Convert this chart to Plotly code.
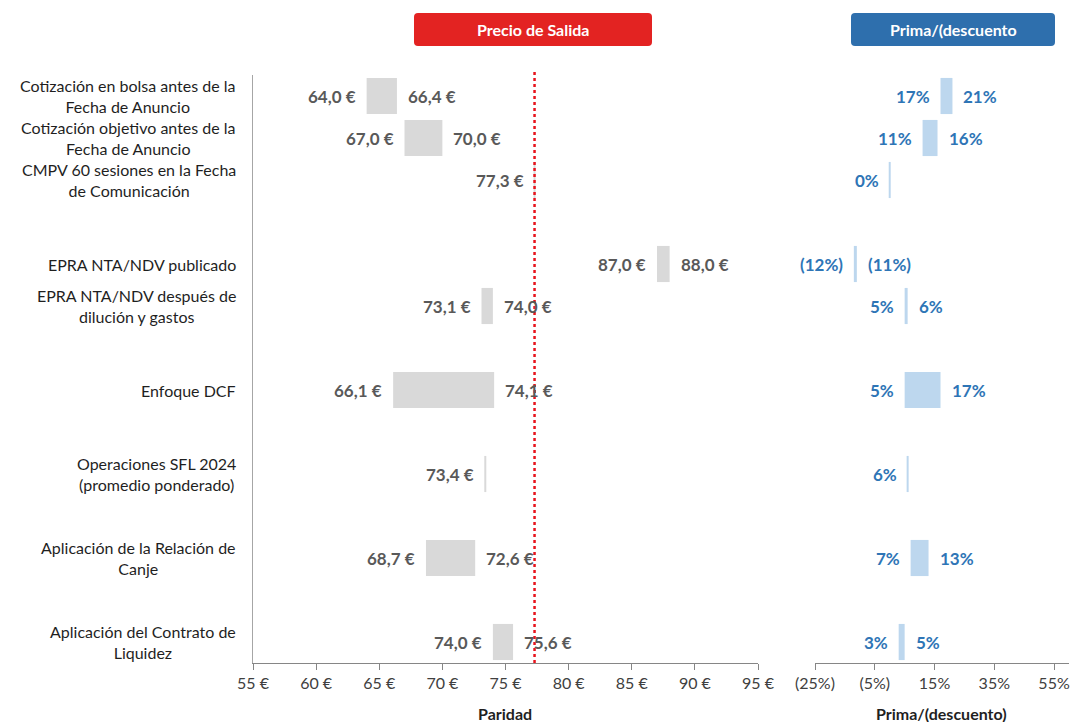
import plotly.graph_objects as go

# ---- data -------------------------------------------------------------
CATEGORIES = [
    "Cotización en bolsa antes de la<br>Fecha de Anuncio",
    "Cotización objetivo antes de la<br>Fecha de Anuncio",
    "CMPV 60 sesiones en la Fecha<br>de Comunicación",
    "EPRA NTA/NDV publicado",
    "EPRA NTA/NDV después de<br>dilución y gastos",
    "Enfoque DCF",
    "Operaciones SFL 2024<br>(promedio ponderado)",
    "Aplicación de la Relación de<br>Canje",
    "Aplicación del Contrato de<br>Liquidez",
]
PARIDAD_LOW = [64.0, 67.0, 77.3, 87.0, 73.1, 66.1, 73.4, 68.7, 74.0]
PARIDAD_HIGH = [66.4, 70.0, None, 88.0, 74.0, 74.1, None, 72.6, 75.6]
PRIMA_LOW = [17, 11, 0, -12, 5, 5, 6, 7, 3]
PRIMA_HIGH = [21, 16, None, -11, 6, 17, None, 13, 5]
PRECIO_SALIDA = 77.3

PARIDAD_TICKS = [55, 60, 65, 70, 75, 80, 85, 90, 95]
PRIMA_TICKS = [-25, -5, 15, 35, 55]

# ---- layout helpers ---------------------------------------------------
W, H = 1071, 722
ROW_POS = [0, 1, 2, 4, 5, 7, 9, 11, 13]   # vertical slots (blank slots act as spacers)
BAR_W = 0.86

GRAY_BAR = "#d9d9d9"
BLUE_BAR = "#bdd7ee"
GRAY_TXT = "#595959"
BLUE_TXT = "#2e75b6"
AXIS_COL = "#868686"
FONT = "Lato"
FS = 16
FS_VAL = 17


def px_x(p):
    return p / W


def px_y(p):
    return 1 - p / H


def eur(v):
    return f"{v:.1f}".replace(".", ",") + " €"


def pct(v):
    return f"({abs(v):.0f}%)" if v < 0 else f"{v:.0f}%"


fig = go.Figure()
annotations = []


def add_ranges(lows, highs, xa, ya, bar_col, txt_col, fmt):
    rng_y, rng_base, rng_len = [], [], []
    for pos, lo, hi in zip(ROW_POS, lows, highs):
        if hi is None:
            # single value: drawn as a thin vertical mark
            fig.add_trace(go.Scatter(
                x=[lo, lo], y=[pos - BAR_W / 2, pos + BAR_W / 2],
                mode="lines", line=dict(color=bar_col, width=2),
                xaxis=xa, yaxis=ya, showlegend=False, hoverinfo="skip"))
        else:
            rng_y.append(pos)
            rng_base.append(lo)
            rng_len.append(hi - lo)
            annotations.append(dict(
                x=hi, y=pos, xref=xa, yref=ya, text=f"<b>{fmt(hi)}</b>",
                showarrow=False, xanchor="left", yanchor="middle", xshift=9,
                font=dict(family=FONT, size=FS_VAL, color=txt_col)))
        annotations.append(dict(
            x=lo, y=pos, xref=xa, yref=ya, text=f"<b>{fmt(lo)}</b>",
            showarrow=False, xanchor="right", yanchor="middle", xshift=-9,
            font=dict(family=FONT, size=FS_VAL, color=txt_col)))
    fig.add_trace(go.Bar(
        y=rng_y, x=rng_len, base=rng_base, orientation="h", width=BAR_W,
        marker=dict(color=bar_col, line=dict(width=0)),
        xaxis=xa, yaxis=ya, showlegend=False, hoverinfo="skip"))


add_ranges(PARIDAD_LOW, PARIDAD_HIGH, "x", "y", GRAY_BAR, GRAY_TXT, eur)
add_ranges(PRIMA_LOW, PRIMA_HIGH, "x2", "y2", BLUE_BAR, BLUE_TXT, pct)

# category labels
for pos, name in zip(ROW_POS, CATEGORIES):
    annotations.append(dict(
        x=px_x(238), y=pos, xref="paper", yref="y", text=name,
        showarrow=False, xanchor="right", yanchor="middle", align="center",
        font=dict(family=FONT, size=FS, color="#1f1f1f")))


def paper_text(x, y, text, color):
    annotations.append(dict(x=px_x(x), y=px_y(y), xref="paper", yref="paper",
                            text=text, showarrow=False,
                            xanchor="center", yanchor="middle",
                            font=dict(family=FONT, size=FS, color=color)))


# axis titles
paper_text(505, 713, "<b>Paridad</b>", "#1f1f1f")
paper_text(941, 713, "<b>Prima/(descuento)</b>", "#1f1f1f")


def rounded_box(x0, y0, x1, y1, r=4):
    rx, ry = r / W, r / H
    X0, X1 = px_x(x0), px_x(x1)
    Y0, Y1 = px_y(y0), px_y(y1)  # Y0 top, Y1 bottom
    return (f"M {X0 + rx} {Y0} L {X1 - rx} {Y0} Q {X1} {Y0} {X1} {Y0 - ry} "
            f"L {X1} {Y1 + ry} Q {X1} {Y1} {X1 - rx} {Y1} "
            f"L {X0 + rx} {Y1} Q {X0} {Y1} {X0} {Y1 + ry} "
            f"L {X0} {Y0 - ry} Q {X0} {Y0} {X0 + rx} {Y0} Z")


shapes = [
    dict(type="path", xref="paper", yref="paper", path=rounded_box(414, 13, 652, 46),
         fillcolor="#e32322", line=dict(width=0)),
    dict(type="path", xref="paper", yref="paper", path=rounded_box(851, 13, 1055, 46),
         fillcolor="#2e6fad", line=dict(width=0)),
    dict(type="line", xref="x", yref="paper", x0=PRECIO_SALIDA, x1=PRECIO_SALIDA,
         y0=px_y(663), y1=px_y(70), line=dict(color="#e8141c", width=2.5, dash="dot")),
]
paper_text(533, 29.5, "<b>Precio de Salida</b>", "white")
paper_text(953, 29.5, "<b>Prima/(descuento</b>", "white")

tickfont = dict(family=FONT, size=FS, color="#404040")
fig.update_layout(
    width=W, height=H,
    margin=dict(l=0, r=0, t=0, b=0, autoexpand=False),
    paper_bgcolor="white", plot_bgcolor="white",
    barmode="overlay",
    xaxis=dict(domain=[px_x(253), px_x(758)], range=[55, 95], automargin=False,
               tickvals=PARIDAD_TICKS, ticktext=[f"{v} €" for v in PARIDAD_TICKS],
               showgrid=False, zeroline=False, showline=True, linecolor=AXIS_COL,
               linewidth=1, ticks="outside", ticklen=6, tickcolor=AXIS_COL,
               tickfont=tickfont, anchor="y"),
    yaxis=dict(domain=[px_y(663), px_y(75)], range=[13.5, -0.5], automargin=False,
               showgrid=False, zeroline=False, showticklabels=False,
               showline=True, linecolor="#a6a6a6", linewidth=1, ticks="",
               anchor="x"),
    xaxis2=dict(domain=[px_x(815), px_x(1069)], range=[-25, 60], automargin=False,
                tickvals=PRIMA_TICKS, ticktext=[pct(v) for v in PRIMA_TICKS],
                showgrid=False, zeroline=False, showline=True, linecolor=AXIS_COL,
                linewidth=1, ticks="outside", ticklen=6, tickcolor=AXIS_COL,
                tickfont=tickfont, anchor="y2"),
    yaxis2=dict(domain=[px_y(663), px_y(75)], range=[13.5, -0.5], automargin=False,
                showgrid=False, zeroline=False, showticklabels=False,
                showline=False, anchor="x2"),
    shapes=shapes,
    annotations=annotations,
)

fig.write_html("out.html")
